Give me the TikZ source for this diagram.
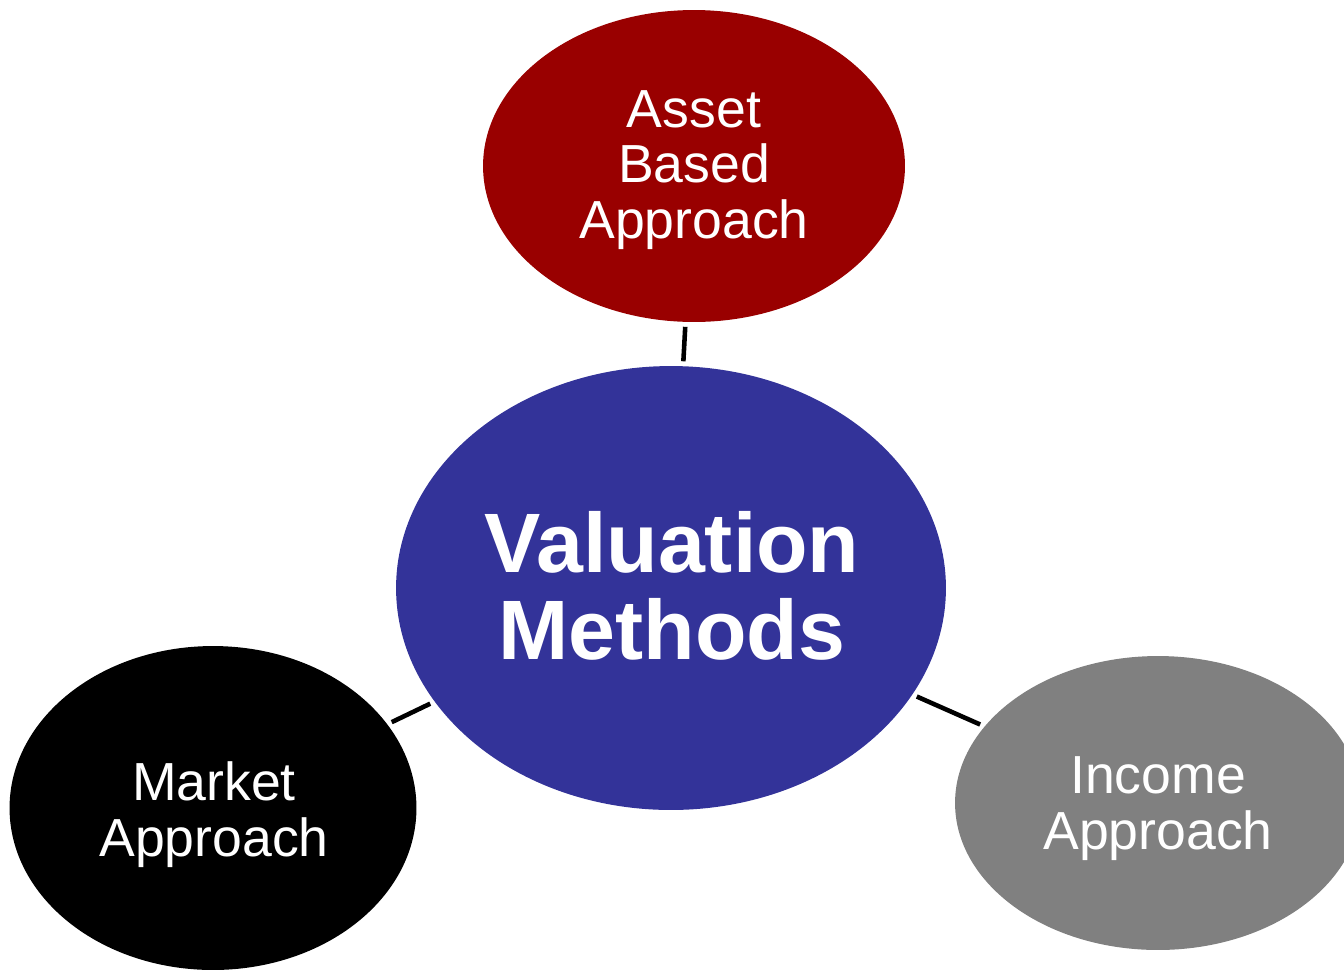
\documentclass[tikz,border=0pt]{standalone}
\usepackage{fontspec}
\setmainfont{Liberation Sans}
\usetikzlibrary{shapes.geometric}

\definecolor{assetred}{HTML}{990000}
\definecolor{methodblue}{HTML}{333399}
\definecolor{incomegray}{HTML}{808080}

\tikzset{
  blob/.style={ellipse, draw=none, inner sep=0pt, outer sep=0pt},
  smalltext/.style={text=white, align=center, font=\fontsize{30.5}{31.8}\selectfont},
  bigtext/.style={text=white, align=center, font=\fontsize{48}{49.5}\selectfont\bfseries},
  link/.style={line width=2.6pt, shorten <=0.1cm, shorten >=0.1cm}
}

\begin{document}
\begin{tikzpicture}[x=0.02cm,y=-0.02cm]
\useasboundingbox (0,0) rectangle (1344,971);
\clip (0,0) rectangle (1344,971);
% the four ellipses
\node[blob, fill=assetred, minimum width=8.44cm, minimum height=6.24cm] (asset) at (694,166) {};
\node[blob, fill=methodblue, minimum width=11cm, minimum height=8.88cm] (valn) at (671,588) {};
\node[blob, fill=black, minimum width=8.14cm, minimum height=6.48cm] (market) at (213,808) {};
\node[blob, fill=incomegray, minimum width=8.12cm, minimum height=5.88cm] (income) at (1158,803) {};
% connectors
\draw[link] (asset) -- (valn);
\draw[link] (market) -- (valn);
\draw[link] (valn) -- (income);
% labels
\node[smalltext] (assettxt) at (694,170) {Asset\\Based\\Approach};
\node[bigtext] (valntxt) at (672,586) {Valuation\\Methods};
\node[smalltext] (markettxt) at (214,815) {Market\\Approach};
\node[smalltext] (incometxt) at (1158,809) {Income\\Approach};
\end{tikzpicture}
\end{document}
